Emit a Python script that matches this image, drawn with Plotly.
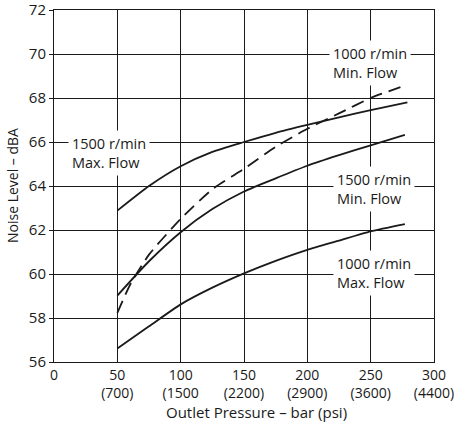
import plotly.graph_objects as go

# outlet pressure (bar) and noise level (dBA)
p_1500_max = [50, 75, 100, 125, 150, 175, 200, 225, 250, 279]
db_1500_max = [62.88, 64.0, 64.9, 65.55, 66.0, 66.42, 66.78, 67.12, 67.45, 67.8]

p_1000_min = [50, 60, 75, 100, 125, 150, 175, 200, 225, 250, 273.5]
db_1000_min = [58.23, 59.5, 60.88, 62.5, 63.85, 64.78, 65.78, 66.6, 67.3, 68.0, 68.49]

p_1500_min = [50, 75, 100, 125, 150, 175, 200, 225, 250, 277]
db_1500_min = [59.02, 60.58, 61.9, 62.95, 63.75, 64.35, 64.92, 65.4, 65.85, 66.32]

p_1000_max = [50, 75, 100, 125, 150, 175, 200, 225, 250, 277]
db_1000_max = [56.61, 57.62, 58.62, 59.38, 60.03, 60.6, 61.1, 61.52, 61.94, 62.27]

x_ticks = [0, 50, 100, 150, 200, 250, 300]
x_labels = ["0", "50<br>(700)", "100<br>(1500", "150<br>(2200)", "200<br>(2900)",
            "250<br>(3600)", "300<br>(4400)"]
y_ticks = [56, 58, 60, 62, 64, 66, 68, 70, 72]

labels = ["1500 r/min<br>Max. Flow", "1000 r/min<br>Min. Flow",
          "1500 r/min<br>Min. Flow", "1000 r/min<br>Max. Flow"]
label_pos = [(11, 65.5), (217, 69.6), (220, 63.85), (220, 60.05)]

font = "Open Sans"
ink = "#1a1a1a"

fig = go.Figure()

for px, db, dash in [(p_1500_max, db_1500_max, "solid"),
                     (p_1000_min, db_1000_min, "13px,7px"),
                     (p_1500_min, db_1500_min, "solid"),
                     (p_1000_max, db_1000_max, "solid")]:
    fig.add_trace(go.Scatter(x=px, y=db, mode="lines", showlegend=False,
                             line=dict(color=ink, width=1.8, dash=dash,
                                       shape="spline", smoothing=0.6)))

for txt, (lx, ly) in zip(labels, label_pos):
    fig.add_annotation(x=lx, y=ly, text=txt, showarrow=False, xanchor="left",
                       yanchor="middle", align="left", bgcolor="white",
                       borderpad=3, font=dict(family=font, size=14.5, color=ink))

# axis titles placed as annotations so they sit where the original has them
fig.add_annotation(xref="paper", yref="paper", x=0.5, y=0, xshift=12, yshift=-50,
                   text="Outlet Pressure – bar (psi)", showarrow=False,
                   xanchor="center", yanchor="middle",
                   font=dict(family=font, size=15, color=ink))
fig.add_annotation(xref="paper", yref="paper", x=0, y=0.5, xshift=-42,
                   text="Noise Level – dBA", showarrow=False, textangle=-90,
                   xanchor="center", yanchor="middle",
                   font=dict(family=font, size=14, color=ink))

fig.update_xaxes(range=[0, 300], tickvals=x_ticks, ticktext=x_labels,
                 showgrid=True, gridcolor=ink, gridwidth=1,
                 showline=True, linecolor=ink, linewidth=1, mirror=True,
                 ticks="", zeroline=False, automargin=False,
                 ticklabeloverflow="allow",
                 tickfont=dict(family=font, size=14, color=ink))
fig.update_yaxes(range=[56, 72], tickvals=y_ticks,
                 showgrid=True, gridcolor=ink, gridwidth=1,
                 showline=True, linecolor=ink, linewidth=1, mirror=True,
                 ticks="outside", ticklen=4, tickcolor=ink, zeroline=False,
                 automargin=False, ticklabeloverflow="allow",
                 tickfont=dict(family=font, size=15, color=ink))

fig.update_layout(width=461, height=426, plot_bgcolor="white", paper_bgcolor="white",
                  margin=dict(l=54, r=27, t=10, b=64))

# drop the page's default body margin so the figure fills the window
fig.write_html("out.html", config={"displayModeBar": False},
               post_script="document.body.style.margin='0';")
